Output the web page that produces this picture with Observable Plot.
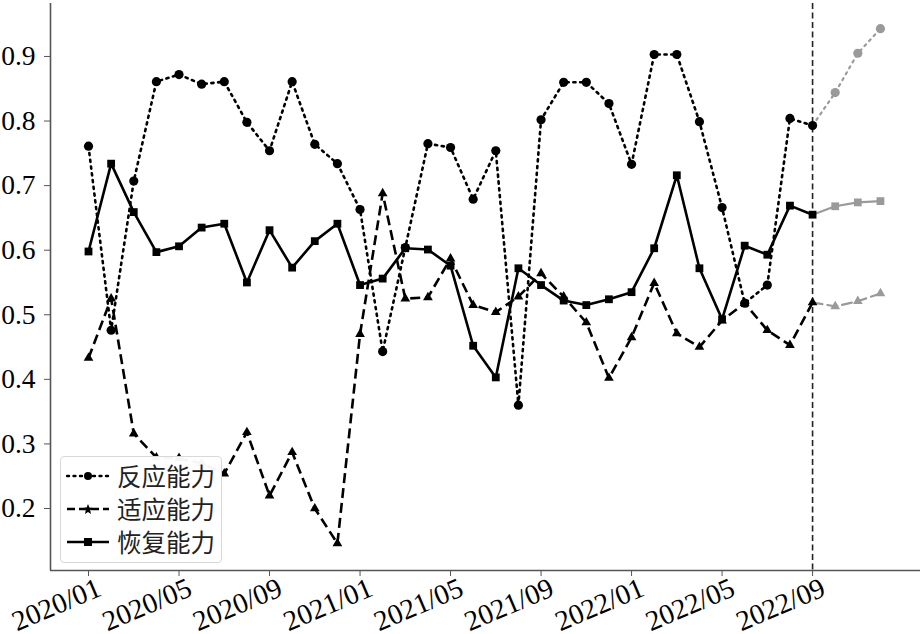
<!DOCTYPE html>
<html>
<head>
<meta charset="utf-8">
<script src="https://cdn.jsdelivr.net/npm/d3@7"></script>
<script src="https://cdn.jsdelivr.net/npm/@observablehq/plot@0.6"></script>
<style>
  body { margin: 0; background: #fff; }
  #wrap { position: relative; width: 923px; height: 634px; }
  #legend {
    position: absolute; left: 60px; top: 456px; width: 162px; height: 107px;
    background: rgba(255,255,255,0.96); border: 1px solid #d8d8d8; border-radius: 4px;
    box-sizing: border-box; font-family: "Noto Sans CJK SC", sans-serif; font-size: 24.5px; color: #222;
  }
  .row { position: absolute; left: 0; height: 32px; display: flex; align-items: center; }
  .row svg { margin-left: 5px; }
  .row span { margin-left: 7px; line-height: 32px; }
</style>
</head>
<body>
<div id="wrap"><div id="legend"></div></div>
<script>
const months = ["2020/01","2020/02","2020/03","2020/04","2020/05","2020/06","2020/07","2020/08","2020/09","2020/10","2020/11","2020/12",
  "2021/01","2021/02","2021/03","2021/04","2021/05","2021/06","2021/07","2021/08","2021/09","2021/10","2021/11","2021/12",
  "2022/01","2022/02","2022/03","2022/04","2022/05","2022/06","2022/07","2022/08","2022/09","2022/10","2022/11","2022/12"];
const seriesNames = ["反应能力", "适应能力", "恢复能力"];
const response = [0.761,0.476,0.707,0.861,0.872,0.857,0.861,0.798,0.754,0.861,0.764,0.734,
  0.663,0.443,0.604,0.765,0.759,0.679,0.754,0.360,0.802,0.860,0.860,0.827,
  0.733,0.903,0.903,0.799,0.666,0.518,0.546,0.804,0.793,0.844,0.905,0.943];
const adapt = [0.433,0.525,0.316,0.279,0.278,0.270,0.254,0.318,0.220,0.287,0.200,0.146,
  0.470,0.688,0.525,0.527,0.587,0.515,0.504,0.528,0.564,0.528,0.488,0.402,
  0.465,0.549,0.471,0.450,0.491,0.518,0.476,0.453,0.519,0.513,0.521,0.533];
const recover = [0.598,0.734,0.659,0.597,0.606,0.635,0.641,0.550,0.631,0.573,0.614,0.641,
  0.546,0.556,0.603,0.601,0.576,0.452,0.403,0.572,0.546,0.522,0.515,0.524,
  0.535,0.603,0.716,0.572,0.493,0.607,0.593,0.669,0.655,0.668,0.674,0.676];
const splitIndex = 32; // 2022/09: observed up to here, forecast after
const xTicks = [0,4,8,12,16,20,24,28,32];
const yTicks = [0.2,0.3,0.4,0.5,0.6,0.7,0.8,0.9];

const styles = [
  {values: response, dash: "2.2,4.6", symbol: "circle", r: 4.6},
  {values: adapt, dash: "10,5", symbol: "triangle", r: 3.6},
  {values: recover, dash: null, symbol: "square", r: 4.4}
];
const GRAY = "#9a9a9a";
const marks = [];
styles.forEach(s => {
  const pts = s.values.map((v, i) => ({i, v}));
  const obs = pts.filter(d => d.i <= splitIndex);
  const fc = pts.filter(d => d.i >= splitIndex);
  marks.push(Plot.line(fc, {x: "i", y: "v", stroke: GRAY, strokeWidth: 2.2, strokeDasharray: s.dash, strokeLinecap: "round"}));
  marks.push(Plot.line(obs, {x: "i", y: "v", stroke: "#000", strokeWidth: 2.6, strokeDasharray: s.dash, strokeLinecap: s.dash && s.symbol === "circle" ? "round" : "butt"}));
  marks.push(Plot.dot(fc.filter(d => d.i > splitIndex), {x: "i", y: "v", symbol: s.symbol, r: s.r, fill: GRAY}));
  marks.push(Plot.dot(obs, {x: "i", y: "v", symbol: s.symbol, r: s.r, fill: "#000"}));
});

const xDomain = [-1.68, 36.77];
const yDomain = [0.104, 0.982];

const chart = Plot.plot({
  width: 923, height: 634,
  marginLeft: 50, marginRight: 3, marginTop: 3, marginBottom: 64,
  style: {fontFamily: "Liberation Serif", fontSize: "27.5px", color: "#000", background: "#fff"},
  x: {type: "linear", domain: xDomain, axis: null},
  y: {domain: yDomain, axis: null},
  marks: [
    Plot.axisX({ticks: xTicks, tickFormat: () => "", tickSize: 6, label: null, stroke: "#555"}),
    Plot.axisX({ticks: xTicks, tickFormat: i => months[i], tickRotate: -23, tickSize: 0, tickPadding: 9, label: null, fill: "#000", fontFamily: "Liberation Serif", fontSize: 28.5, dx: 11, dy: 7}),
    Plot.axisY({ticks: yTicks, tickFormat: d => d.toFixed(1), tickSize: 6, tickPadding: 9, label: null, stroke: "#555", fill: "#000", fontFamily: "Liberation Serif", fontSize: 27.5}),
    Plot.ruleX([splitIndex], {stroke: "#222", strokeWidth: 1.6, strokeDasharray: "6,3.5"}),
    ...marks,
    Plot.ruleX([xDomain[0]], {stroke: "#555", strokeWidth: 1.6}),
    Plot.ruleY([yDomain[0]], {stroke: "#555", strokeWidth: 1.6})
  ]
});
document.getElementById("wrap").prepend(chart);

// legend
const legend = document.getElementById("legend");
styles.forEach((s, k) => {
  const row = document.createElement("div");
  row.className = "row";
  row.style.top = (3 + k * 33) + "px";
  const dash = s.dash ? `stroke-dasharray="${s.symbol === 'triangle' ? '8,4' : '2,4.5'}"` : "";
  const cap = s.symbol === "circle" ? "round" : "butt";
  let mk;
  if (s.symbol === "circle") mk = `<circle cx="22" cy="16" r="4" fill="#000"/>`;
  else if (s.symbol === "square") mk = `<rect x="18" y="12" width="8" height="8" fill="#000"/>`;
  else mk = `<path d="M22,11 L23.4,14.6 L27,15 L24.2,17.3 L25,21 L22,19 L19,21 L19.8,17.3 L17,15 L20.6,14.6 Z" fill="#000"/>`;
  row.innerHTML = `<svg width="44" height="32"><line x1="1" y1="16" x2="43" y2="16" stroke="#000" stroke-width="2.4" stroke-linecap="${cap}" ${dash}/>${mk}</svg><span>${seriesNames[k]}</span>`;
  legend.appendChild(row);
});
</script>
</body>
</html>
